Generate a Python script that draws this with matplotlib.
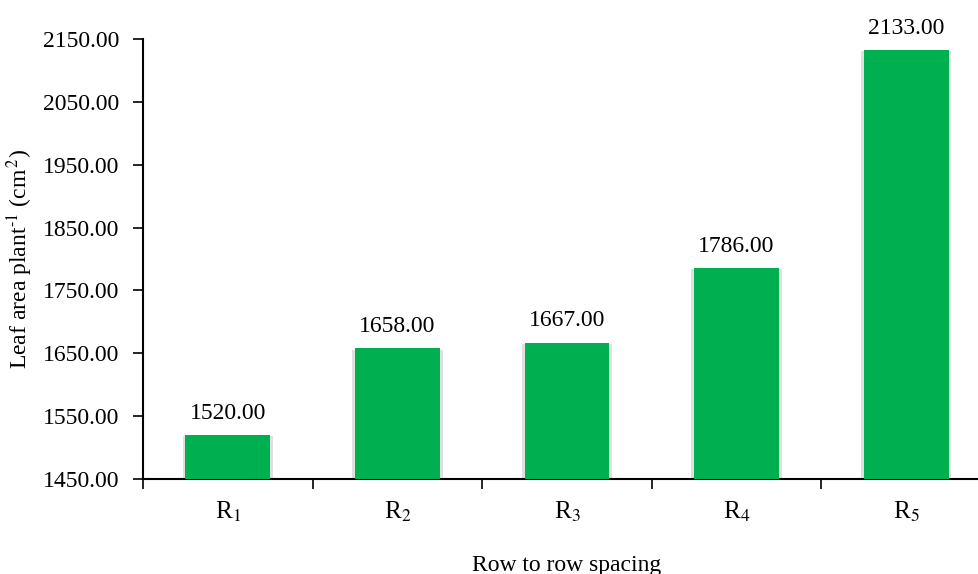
import numpy as np
import matplotlib.pyplot as plt
import matplotlib.patheffects as pe

plt.rcParams['font.family'] = ['Liberation Serif', 'DejaVu Serif']
plt.rcParams['mathtext.fontset'] = 'stix'

# dados
categorias = ['R$_1$', 'R$_2$', 'R$_3$', 'R$_4$', 'R$_5$']
area_foliar = [1520.00, 1658.00, 1667.00, 1786.00, 2133.00]
yticks = [1450, 1550, 1650, 1750, 1850, 1950, 2050, 2150]

fig = plt.figure(figsize=(9.79, 5.74), dpi=100)
ax = fig.add_axes([143/979, 95/574, 848/979, 440/574])

pos = np.arange(len(categorias))
barras = ax.bar(pos, area_foliar, width=0.5, color='#00B050', zorder=3)
# sombra leve dos dois lados da barra
for b in barras:
    b.set_path_effects([pe.SimplePatchShadow(offset=(2, -1), alpha=0.12, shadow_rgbFace='k'),
                        pe.SimplePatchShadow(offset=(-2, -1), alpha=0.12, shadow_rgbFace='k'),
                        pe.Normal()])

for x, v in zip(pos, area_foliar):
    ax.annotate('{:.2f}'.format(v), (x, v), xytext=(0, 8), textcoords='offset points',
                ha='center', va='bottom', fontsize=17)

ax.set_xlim(-0.5, len(categorias) - 0.5)
ax.set_ylim(1450, 2150)
ax.set_yticks(yticks)
ax.set_yticklabels(['{:.2f}'.format(t) for t in yticks], fontsize=17)
ax.set_xticks(pos)
ax.set_xticklabels(categorias, fontsize=18)
ax.tick_params(axis='x', length=0, pad=15)
ax.set_xticks(np.arange(-0.5, len(categorias), 1.0), minor=True)
ax.tick_params(axis='x', which='minor', length=7, width=1.2, direction='out')
ax.tick_params(axis='y', length=7, width=1.2, direction='out', pad=10)

for s in ['top', 'right']:
    ax.spines[s].set_visible(False)
ax.spines['left'].set_linewidth(1.5)
ax.spines['bottom'].set_linewidth(1.5)

ax.set_ylabel('Leaf area plant$^{\\text{-1}}$ (cm$^{\\,2}$)', fontsize=17, labelpad=6)
ax.set_xlabel('Row to row spacing', fontsize=17, labelpad=22)

plt.savefig('out.png', dpi=100)
